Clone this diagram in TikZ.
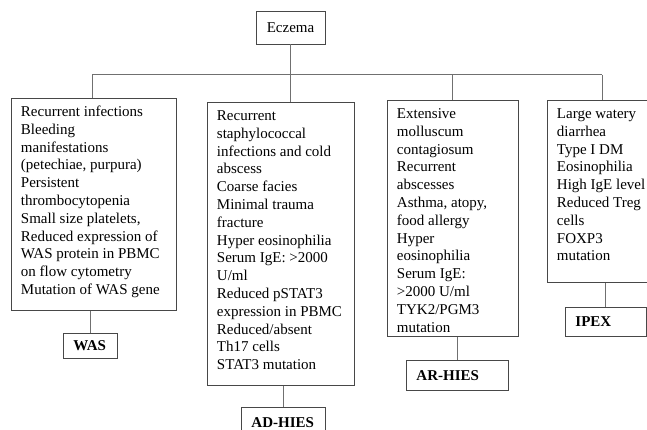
\documentclass[tikz,border=0pt]{standalone}
\usepackage{fontspec}
\setmainfont{Liberation Serif}
\usetikzlibrary{positioning,calc}
\definecolor{linkgray}{RGB}{112,112,112}
\definecolor{boxline}{RGB}{72,72,72}
\newcommand{\bodysize}{\fontsize{15}{17.8}\selectfont}
\newcommand{\symlist}[3]{\parbox[t][#2][t]{#1}{\raggedright\strut #3}}

\begin{document}
\begin{tikzpicture}[
  x=1pt,y=-1pt,
  font=\bodysize,
  root/.style={draw=boxline,line width=0.9pt,minimum width=69pt,minimum height=33pt,inner sep=0pt},
  sym/.style={draw=boxline,line width=0.9pt,anchor=north west,inner xsep=9.5pt,inner ysep=5.5pt},
  dis/.style={draw=boxline,line width=0.9pt,anchor=north west,inner xsep=10pt,inner ysep=0pt,align=left,font=\bodysize\bfseries},
  link/.style={draw=linkgray,line width=1pt}
]
\clip (0,0) rectangle (647,430);
% ---------------- root ----------------
\node[root] (eczema) at (290.5,27.5) {Eczema};
\coordinate (busL) at (92,75);
\coordinate (busR) at (602,75);
% ---------------- symptom boxes ----------------
\node[sym] (was) at (11,98) {\symlist{146pt}{201pt}{Recurrent infections\\Bleeding\\manifestations\\(petechiae, purpura)\\Persistent\\thrombocytopenia\\Small size platelets,\\Reduced expression of\\WAS protein in PBMC\\on flow cytometry\\Mutation of WAS gene}};
\node[sym] (adhies) at (207,102) {\symlist{128pt}{272pt}{Recurrent\\staphylococcal\\infections and cold\\abscess\\Coarse facies\\Minimal trauma\\fracture\\Hyper eosinophilia\\Serum IgE: >2000\\U/ml\\Reduced pSTAT3\\expression in PBMC\\Reduced/absent\\Th17 cells\\STAT3 mutation}};
\node[sym] (arhies) at (387,100) {\symlist{112pt}{225pt}{Extensive\\molluscum\\contagiosum\\Recurrent\\abscesses\\Asthma, atopy,\\food allergy\\Hyper\\eosinophilia\\Serum IgE:\\>2000 U/ml\\TYK2/PGM3\\mutation}};
\node[sym] (ipex) at (547,100) {\symlist{101pt}{171pt}{Large watery\\diarrhea\\Type I DM\\Eosinophilia\\High IgE level\\Reduced Treg\\cells\\FOXP3\\mutation}};
% ---------------- disease labels ----------------
\node[dis,text width=34pt,minimum height=25pt] (waslbl) at (63,333) {WAS};
\node[dis,text width=64pt,minimum height=30pt] (adlbl) at (241,407) {AD-HIES};
\node[dis,text width=82pt,minimum height=30pt] (arlbl) at (406,360) {AR-HIES};
\node[dis,text width=61pt,minimum height=29pt] (ipexlbl) at (565,307) {IPEX};
% ---------------- connectors ----------------
\draw[link] (busL) -- (busR);
\draw[link] (eczema.south) -- (eczema.south |- adhies.north);
\draw[link] (busL) -- (busL |- was.north);
\draw[link] (arhies.north) -- (arhies.north |- busL);
\draw[link] (busR) -- (busR |- ipex.north);
\draw[link] (was.south -| waslbl.north) -- (waslbl.north);
\draw[link] (adhies.south -| adlbl.north) -- (adlbl.north);
\draw[link] (arhies.south -| arlbl.north) -- (arlbl.north);
\draw[link] (ipex.south -| ipexlbl.north) -- (ipexlbl.north);
\end{tikzpicture}
\end{document}
